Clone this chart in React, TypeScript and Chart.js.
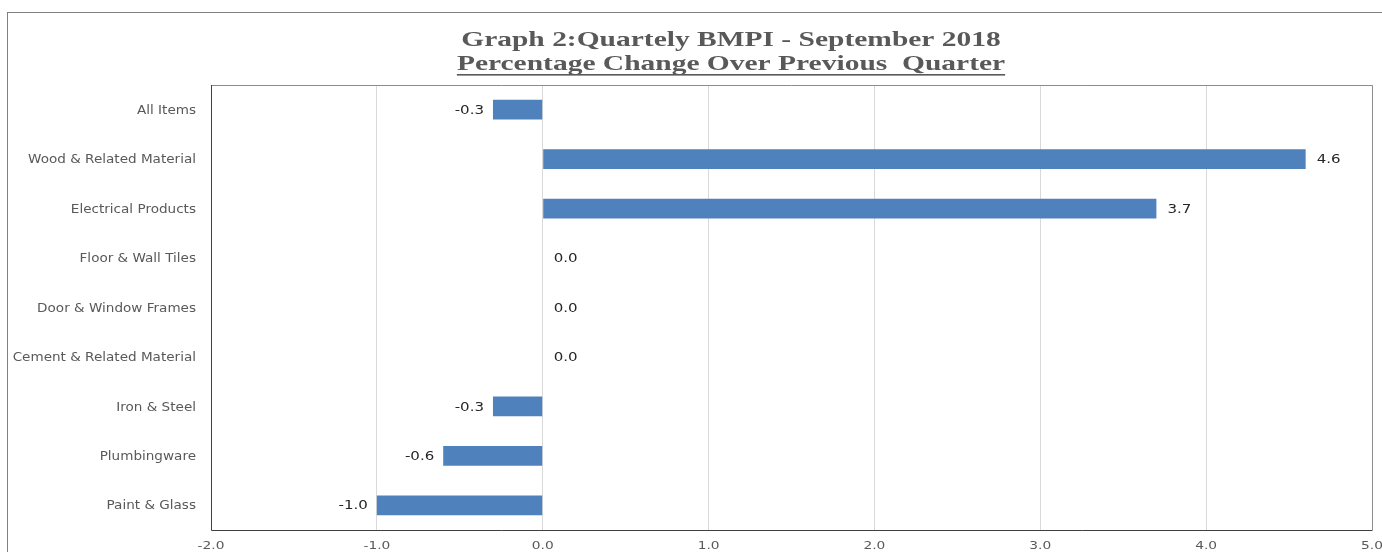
import React, { useEffect, useRef } from "react";
import { Chart, registerables } from "chart.js";

Chart.register(...registerables);

const categories = [
  "All Items",
  "Wood & Related Material",
  "Electrical Products",
  "Floor & Wall Tiles",
  "Door & Window Frames",
  "Cement & Related Material",
  "Iron & Steel",
  "Plumbingware",
  "Paint & Glass",
];
const values = [-0.3, 4.6, 3.7, 0.0, 0.0, 0.0, -0.3, -0.6, -1.0];
const xTicks = [-2, -1, 0, 1, 2, 3, 4, 5];
const titleLines = ["Graph 2:Quartely BMPI - September 2018", "Percentage Change Over Previous  Quarter"];

function stretchText(ctx: any, txt: string, x: number, y: number, sx: number, align: string) {
  ctx.save();
  ctx.translate(x, y);
  ctx.scale(sx, 1);
  ctx.textAlign = align;
  ctx.fillText(txt, 0, 0);
  ctx.restore();
}

const decor = {
  id: "decor",
  beforeDraw(chart: any) {
    const ctx = chart.ctx;
    ctx.save();
    ctx.fillStyle = "#ffffff";
    ctx.fillRect(0, 0, chart.width, chart.height);
    ctx.strokeStyle = "#808080";
    ctx.lineWidth = 1;
    ctx.strokeRect(7.5, 12.5, chart.width + 10, chart.height + 20);
    ctx.restore();
  },
  afterDraw(chart: any) {
    const ctx = chart.ctx;
    const a = chart.chartArea;
    ctx.save();
    ctx.strokeStyle = "#8c8c8c";
    ctx.lineWidth = 1;
    ctx.beginPath();
    ctx.moveTo(a.left, a.top + 0.5);
    ctx.lineTo(a.right + 0.5, a.top + 0.5);
    ctx.lineTo(a.right + 0.5, a.bottom);
    ctx.stroke();
    ctx.strokeStyle = "#404040";
    ctx.beginPath();
    ctx.moveTo(a.left + 0.5, a.top);
    ctx.lineTo(a.left + 0.5, a.bottom + 0.5);
    ctx.lineTo(a.right + 0.5, a.bottom + 0.5);
    ctx.stroke();

    // title
    const cx = 731;
    ctx.fillStyle = "#595959";
    ctx.textBaseline = "alphabetic";
    ctx.font = "bold 22px 'Liberation Serif'";
    const sT = 1.34;
    stretchText(ctx, titleLines[0], cx, 46, sT, "center");
    stretchText(ctx, titleLines[1], cx, 70, sT, "center");
    const w = ctx.measureText(titleLines[1]).width * sT;
    ctx.fillRect(cx - w / 2, 74, w, 1.6);

    // y labels
    const ys = chart.scales.y;
    ctx.fillStyle = "#595959";
    ctx.font = "12px 'DejaVu Sans'";
    ctx.textBaseline = "middle";
    categories.forEach((c, i) => {
      stretchText(ctx, c, 196, ys.getPixelForValue(i) + 1, 1.13, "right");
    });

    // x labels
    const xs = chart.scales.x;
    ctx.font = "11px 'DejaVu Sans'";
    xTicks.forEach((t) => {
      stretchText(ctx, t.toFixed(1), xs.getPixelForValue(t), 546, 1.25, "center");
    });

    // data labels
    const meta = chart.getDatasetMeta(0);
    ctx.fillStyle = "#262626";
    ctx.font = "12px 'DejaVu Sans'";
    meta.data.forEach((bar: any, i: number) => {
      const v = values[i];
      const txt = v.toFixed(1);
      if (v < 0) {
        stretchText(ctx, txt, bar.x - 9, bar.y + 1, 1.25, "right");
      } else {
        stretchText(ctx, txt, bar.x + 11, bar.y + 1, 1.25, "left");
      }
    });
    ctx.restore();
  },
};

export default function App() {
  const ref = useRef<HTMLCanvasElement>(null);
  useEffect(() => {
    document.body.style.margin = "0";
    const chart = new Chart(ref.current!, {
      type: "bar",
      data: {
        labels: categories,
        datasets: [
          {
            data: values,
            backgroundColor: "#4f81bd",
            borderColor: "#4f81bd",
            categoryPercentage: 1,
            barPercentage: 0.4,
          },
        ],
      },
      options: {
        indexAxis: "y",
        responsive: false,
        animation: false,
        layout: { padding: { top: 85, right: 10, left: 0, bottom: 0 } },
        plugins: { legend: { display: false }, tooltip: { enabled: false } },
        scales: {
          x: {
            min: -2,
            max: 5,
            ticks: { stepSize: 1, display: false },
            grid: { color: "#d9d9d9", drawTicks: false },
            border: { display: false },
            afterFit: (s: any) => {
              s.height = 22;
            },
          },
          y: {
            ticks: { display: false },
            grid: { display: false, drawTicks: false },
            border: { display: false },
            afterFit: (s: any) => {
              s.width = 211;
            },
          },
        },
      },
      plugins: [decor],
    });
    return () => chart.destroy();
  }, []);
  return <canvas ref={ref} width={1382} height={552} style={{ display: "block" }} />;
}
